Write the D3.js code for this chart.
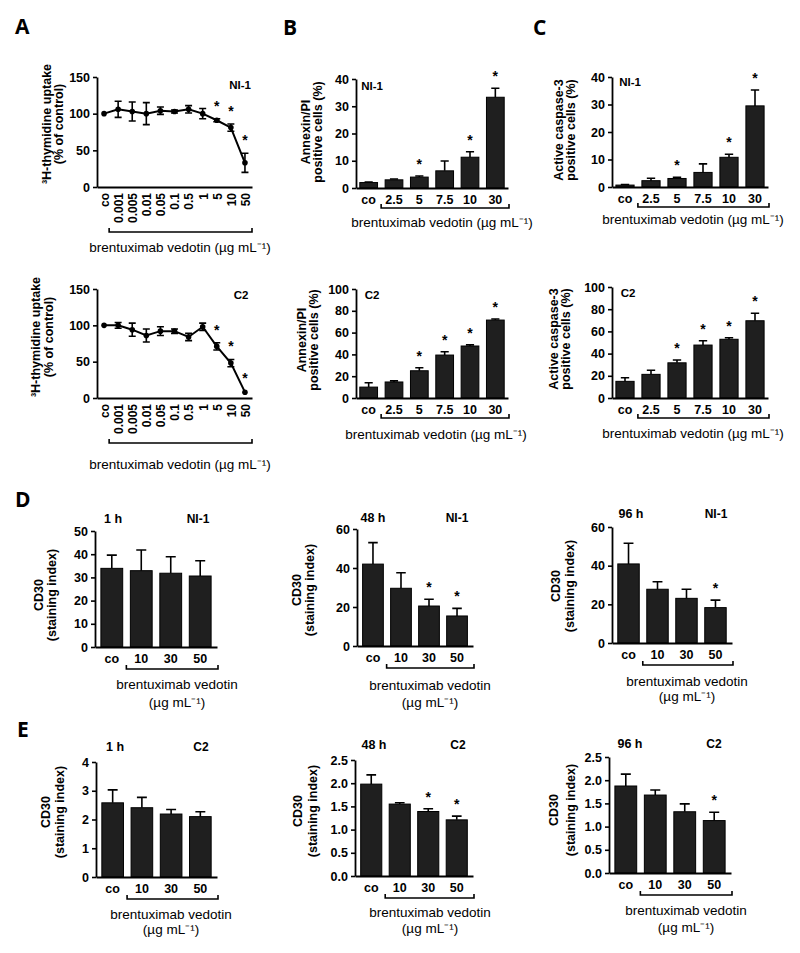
<!DOCTYPE html>
<html><head><meta charset="utf-8">
<script src="https://cdn.jsdelivr.net/npm/d3@7"></script>
<style>
body{margin:0;background:#fff}
svg{display:block}
</style>
</head><body>
<svg id="fig" width="800" height="953"></svg>
<script>
// ---------------- DATA ----------------
const doseA = ["co","0.001","0.005","0.01","0.05","0.1","0.5","1","5","10","50"];
const thymNI1    = [100, 106, 103, 100, 104, 103, 106, 100, 91, 81, 33];
const thymNI1Err = [1, 11, 13, 15, 5, 2, 5, 7, 2, 5, 13];
const thymNI1Sig = [0,0,0,0,0,0,0,0,1,1,1];
const thymC2     = [100, 100, 94, 86, 92, 92, 84, 98, 71, 48, 8];
const thymC2Err  = [1, 4, 9, 9, 6, 3, 5, 5, 5, 5, 1];
const thymC2Sig  = [0,0,0,0,0,0,0,0,1,1,1];
const ticksA = [0, 50, 100, 150];

const doseB = ["co","2.5","5","7.5","10","30"];
const annexNI1    = [2, 3, 4, 6.3, 11.3, 33.3];
const annexNI1Err = [0.2, 0.3, 0.4, 3.6, 2, 3.3];
const annexNI1Sig = [0,0,1,0,1,1];
const annexC2     = [10, 14.7, 25, 39.4, 47.7, 71.5];
const annexC2Err  = [4, 1, 2.8, 3, 1, 1];
const annexC2Sig  = [0,0,1,1,1,1];
const caspNI1     = [0.7, 2.3, 3.1, 5.3, 10.8, 29.5];
const caspNI1Err  = [0.2, 0.9, 0.4, 3.1, 1.1, 5.8];
const caspNI1Sig  = [0,0,1,0,1,1];
const caspC2      = [15, 21.3, 31.7, 47.7, 52.9, 69.6];
const caspC2Err   = [3.3, 3.7, 2.5, 3.9, 1.4, 6.7];
const caspC2Sig   = [0,0,1,1,1,1];
const ticks40  = [0, 10, 20, 30, 40];
const ticks100 = [0, 20, 40, 60, 80, 100];

const doseD = ["co","10","30","50"];
const cd30NI1h1     = [33.9, 32.9, 31.8, 30.6];
const cd30NI1h1Err  = [5.7, 8.9, 7.1, 6.6];
const cd30NI1h1Sig  = [0,0,0,0];
const cd30NI1h48    = [42, 29.6, 20.5, 15.4];
const cd30NI1h48Err = [11, 8, 3.5, 3.9];
const cd30NI1h48Sig = [0,0,1,1];
const cd30NI1h96    = [40.9, 27.8, 23.1, 18.3];
const cd30NI1h96Err = [10.7, 3.9, 4.7, 3.9];
const cd30NI1h96Sig = [0,0,0,1];
const cd30C2h1      = [2.58, 2.41, 2.19, 2.10];
const cd30C2h1Err   = [0.45, 0.36, 0.16, 0.17];
const cd30C2h1Sig   = [0,0,0,0];
const cd30C2h48     = [1.98, 1.55, 1.39, 1.21];
const cd30C2h48Err  = [0.20, 0.03, 0.06, 0.08];
const cd30C2h48Sig  = [0,0,1,1];
const cd30C2h96     = [1.875, 1.68, 1.32, 1.13];
const cd30C2h96Err  = [0.255, 0.11, 0.17, 0.18];
const cd30C2h96Sig  = [0,0,0,1];
const ticksD50 = [0, 10, 20, 30, 40, 50];
const ticksD60 = [0, 20, 40, 60];
const ticksE4  = [0, 1, 2, 3, 4];
const ticksE25 = [0, 0.5, 1.0, 1.5, 2.0, 2.5];

const xLabelOneLine = "brentuximab vedotin (µg mL⁻¹)";
const xLabelTwoLines = ["brentuximab vedotin", "(µg mL⁻¹)"];

// ---------------- DRAWING ----------------
const FONT = '"Liberation Sans", Arial, Helvetica, sans-serif';
const svg = d3.select("#fig");

function txt(x, y, s, opt = {}) {
  return svg.append("text").attr("x", x).attr("y", y)
    .attr("text-anchor", opt.anchor || "middle")
    .style("font-family", opt.family || FONT)
    .style("font-size", (opt.size || 12) + "px")
    .style("font-weight", opt.weight || "bold")
    .attr("fill", "#000").text(s);
}
function styleAxis(g, fs) {
  g.select(".domain").attr("stroke", "#000").attr("stroke-width", 1.8);
  g.selectAll(".tick line").attr("stroke", "#000").attr("stroke-width", 1.6);
  g.selectAll(".tick text").attr("fill", "#000")
    .style("font-family", FONT).style("font-size", fs + "px").style("font-weight", "bold");
}
function yLabel(lines, xs, cy) {
  lines.forEach((t, i) => {
    svg.append("text").attr("transform", `translate(${xs[i]},${cy}) rotate(-90)`)
      .attr("text-anchor", "middle").attr("dy", "0.35em")
      .style("font-family", FONT).style("font-size", "12.5px").style("font-weight", "bold")
      .attr("fill", "#000").text(t);
  });
}
function bracket(xs, xe, yb) {
  svg.append("path").attr("d", `M${xs},${yb - 4}V${yb}H${xe}V${yb - 4}`)
    .attr("fill", "none").attr("stroke", "#000").attr("stroke-width", 1.6);
}
function star(x, yTopErr, off) {
  txt(x, yTopErr - off + 8, "*", { size: 14 });
}
function letter(s, x, y) {
  txt(x, y, s, { anchor: "start", size: 21, family: '"Open Sans", "DejaVu Sans", sans-serif', weight: "bold" });
}

function linePanel(c) {
  const g = svg.append("g");
  const x = d3.scalePoint().domain(c.cats).range([c.x0, c.x1]).padding(0.5);
  const y = d3.scaleLinear().domain([0, 150]).range([c.y0, c.yTop]);
  const ya = g.append("g").attr("transform", `translate(${c.x0},0)`)
    .call(d3.axisLeft(y).tickValues(ticksA).tickSizeInner(4).tickSizeOuter(0).tickPadding(3));
  styleAxis(ya, 12.5);
  const xa = g.append("g").attr("transform", `translate(0,${c.y0})`)
    .call(d3.axisBottom(x).tickSize(0));
  styleAxis(xa, 12);
  xa.selectAll(".tick text").attr("transform", "rotate(-90)").attr("text-anchor", "end")
    .attr("x", -6).attr("y", 0).attr("dy", "0.36em");
  // line
  const line = d3.line().x((d, i) => x(c.cats[i])).y(d => y(d));
  g.append("path").datum(c.vals).attr("d", line).attr("fill", "none")
    .attr("stroke", "#000").attr("stroke-width", 2);
  c.vals.forEach((v, i) => {
    const cx = x(c.cats[i]);
    const e = c.errs[i];
    if (e > 1.5) {
      g.append("path").attr("d",
        `M${cx},${y(v - e)}V${y(v + e)}M${cx - 3.5},${y(v + e)}H${cx + 3.5}M${cx - 3.5},${y(v - e)}H${cx + 3.5}`)
        .attr("stroke", "#000").attr("stroke-width", 1.6).attr("fill", "none");
    }
    g.append("circle").attr("cx", cx).attr("cy", y(v)).attr("r", 2.8).attr("fill", "#000");
    if (c.sig[i]) star(cx, y(v + e), 16);
  });
  bracket(x(c.cats[1]) - 9, c.x1, c.y0 + 45);
  txt(c.xlab[0], c.xlab[1], xLabelOneLine, { size: 13.5, weight: "normal" });
  yLabel(["³H-thymidine uptake", "(% of control)"], c.ylx, c.yly);
  txt(c.cell[0], c.cell[1], c.cellName, { size: 11.5 });
}

function barPanel(c) {
  const g = svg.append("g");
  const x = d3.scaleBand().domain(c.cats).range([c.x0, c.x1]).paddingInner(c.pi).paddingOuter(c.po);
  const y = d3.scaleLinear().domain([0, c.max]).range([c.y0, c.yTop]);
  const bw = x.bandwidth();
  g.selectAll("rect.bar").data(c.vals).join("rect").attr("class", "bar")
    .attr("x", (d, i) => x(c.cats[i])).attr("y", d => y(d))
    .attr("width", bw).attr("height", d => c.y0 - y(d))
    .attr("fill", "#1f1f1f").attr("stroke", "#000").attr("stroke-width", 1);
  const cap = bw * 0.23;
  c.vals.forEach((v, i) => {
    const cx = x(c.cats[i]) + bw / 2;
    const yt = y(v + c.errs[i]);
    g.append("path").attr("d", `M${cx},${y(v)}V${yt}M${cx - cap},${yt}H${cx + cap}`)
      .attr("stroke", "#000").attr("stroke-width", 1.6).attr("fill", "none");
    if (c.sig[i]) star(cx, yt, 15);
  });
  const ya = g.append("g").attr("transform", `translate(${c.x0},0)`)
    .call(d3.axisLeft(y).tickValues(c.ticks).tickSizeInner(4).tickSizeOuter(0).tickPadding(3)
      .tickFormat(c.fmt || d3.format("d")));
  styleAxis(ya, 12.5);
  const xa = g.append("g").attr("transform", `translate(0,${c.y0})`)
    .call(d3.axisBottom(x).tickSize(0).tickPadding(7.5));
  styleAxis(xa, 12.5);
  bracket(x(c.cats[1]) - 4, c.x1 + 1, c.y0 + c.bro);
  if (c.xlabLines) {
    c.xlabLines.forEach((t, i) => txt(c.xlab[0], c.xlab[1 + i], t, { size: 13.5, weight: "normal" }));
  }
  yLabel(c.ylines, c.ylx, c.yly);
  if (c.cell) txt(c.cell[0], c.cell[1], c.cellName, { size: 11.5 });
  if (c.title) {
    txt(c.title[0], c.title[2], c.titleText, { size: 12.5 });
    txt(c.title[1], c.title[2], c.cellName, { size: 12 });
  }
}

// Panel letters
letter("A", 15, 34);
letter("B", 283, 35);
letter("C", 533, 35);
letter("D", 15, 507);
letter("E", 17, 737);

// A
linePanel({ cats: doseA, vals: thymNI1, errs: thymNI1Err, sig: thymNI1Sig,
  x0: 97, x1: 252, y0: 187, yTop: 77, xlab: [180, 252], ylx: [47, 59], yly: 124,
  cell: [240, 89], cellName: "NI-1" });
linePanel({ cats: doseA, vals: thymC2, errs: thymC2Err, sig: thymC2Sig,
  x0: 97, x1: 252, y0: 398, yTop: 289, xlab: [180, 469], ylx: [36, 49], yly: 337,
  cell: [241, 299], cellName: "C2" });

// B
const annexLab = ["Annexin/PI", "positive cells (%)"];
barPanel({ cats: doseB, vals: annexNI1, errs: annexNI1Err, sig: annexNI1Sig,
  x0: 356, x1: 508, y0: 188, yTop: 79, max: 40, ticks: ticks40, pi: 0.3, po: 0.15, bro: 20,
  xlabLines: [xLabelOneLine], xlab: [442, 227], ylines: annexLab, ylx: [306, 318], yly: 132,
  cell: [372, 90], cellName: "NI-1" });
barPanel({ cats: doseB, vals: annexC2, errs: annexC2Err, sig: annexC2Sig,
  x0: 356, x1: 508, y0: 398, yTop: 289, max: 100, ticks: ticks100, pi: 0.3, po: 0.15, bro: 20,
  xlabLines: [xLabelOneLine], xlab: [436, 439], ylines: annexLab, ylx: [302, 314], yly: 340,
  cell: [372, 299], cellName: "C2" });

// C
const caspLab = ["Active caspase-3", "positive cells (%)"];
barPanel({ cats: doseB, vals: caspNI1, errs: caspNI1Err, sig: caspNI1Sig,
  x0: 612, x1: 768, y0: 187, yTop: 77, max: 40, ticks: ticks40, pi: 0.3, po: 0.15, bro: 20,
  xlabLines: [xLabelOneLine], xlab: [693, 224], ylines: caspLab, ylx: [559, 571], yly: 130,
  cell: [630, 86], cellName: "NI-1" });
barPanel({ cats: doseB, vals: caspC2, errs: caspC2Err, sig: caspC2Sig,
  x0: 612, x1: 768, y0: 398, yTop: 287, max: 100, ticks: ticks100, pi: 0.3, po: 0.15, bro: 20,
  xlabLines: [xLabelOneLine], xlab: [693, 438], ylines: caspLab, ylx: [554, 566], yly: 339,
  cell: [628, 297], cellName: "C2" });

// D
const cdLab = ["CD30", "(staining index)"];
barPanel({ cats: doseD, vals: cd30NI1h1, errs: cd30NI1h1Err, sig: cd30NI1h1Sig,
  x0: 95, x1: 217, y0: 647, yTop: 531, max: 50, ticks: ticksD50, pi: 0.26, po: 0.2, bro: 22,
  xlabLines: xLabelTwoLines, xlab: [177, 689, 707], ylines: cdLab, ylx: [39, 52], yly: 595,
  title: [113, 198, 523], titleText: "1 h", cellName: "NI-1" });
barPanel({ cats: doseD, vals: cd30NI1h48, errs: cd30NI1h48Err, sig: cd30NI1h48Sig,
  x0: 357, x1: 473, y0: 646, yTop: 529, max: 60, ticks: ticksD60, pi: 0.26, po: 0.2, bro: 22,
  xlabLines: xLabelTwoLines, xlab: [430, 690, 707], ylines: cdLab, ylx: [297, 310], yly: 590,
  title: [373, 457, 522], titleText: "48 h", cellName: "NI-1" });
barPanel({ cats: doseD, vals: cd30NI1h96, errs: cd30NI1h96Err, sig: cd30NI1h96Sig,
  x0: 612, x1: 732, y0: 643, yTop: 527, max: 60, ticks: ticksD60, pi: 0.26, po: 0.2, bro: 22,
  xlabLines: xLabelTwoLines, xlab: [687, 686, 701], ylines: cdLab, ylx: [556, 570], yly: 586,
  title: [631, 716, 518], titleText: "96 h", cellName: "NI-1" });

// E
barPanel({ cats: doseD, vals: cd30C2h1, errs: cd30C2h1Err, sig: cd30C2h1Sig,
  x0: 96, x1: 217, y0: 877, yTop: 762, max: 4, ticks: ticksE4, pi: 0.26, po: 0.2, bro: 22,
  xlabLines: xLabelTwoLines, xlab: [171, 919, 934], ylines: cdLab, ylx: [46, 60], yly: 812,
  title: [115, 201, 751], titleText: "1 h", cellName: "C2" });
barPanel({ cats: doseD, vals: cd30C2h48, errs: cd30C2h48Err, sig: cd30C2h48Sig,
  x0: 355, x1: 473, y0: 876, yTop: 760, max: 2.5, ticks: ticksE25, fmt: d3.format(".1f"), pi: 0.26, po: 0.2, bro: 22,
  xlabLines: xLabelTwoLines, xlab: [430, 917, 933], ylines: cdLab, ylx: [298, 313], yly: 811,
  title: [374, 458, 749], titleText: "48 h", cellName: "C2" });
barPanel({ cats: doseD, vals: cd30C2h96, errs: cd30C2h96Err, sig: cd30C2h96Sig,
  x0: 609, x1: 731, y0: 873, yTop: 757, max: 2.5, ticks: ticksE25, fmt: d3.format(".1f"), pi: 0.26, po: 0.2, bro: 22,
  xlabLines: xLabelTwoLines, xlab: [686, 915, 932], ylines: cdLab, ylx: [554, 571], yly: 810,
  title: [630, 714, 748], titleText: "96 h", cellName: "C2" });
</script>
</body></html>
